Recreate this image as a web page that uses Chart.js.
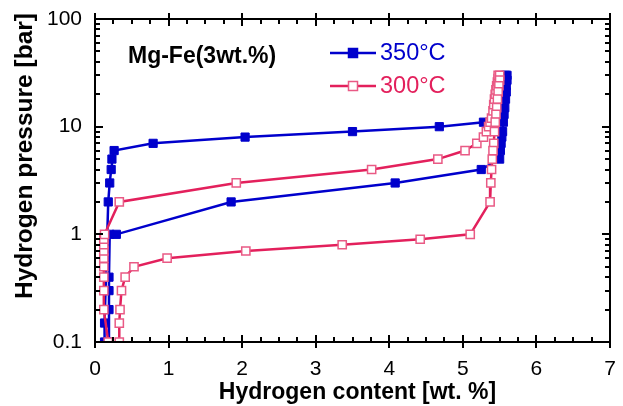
<!DOCTYPE html>
<html><head><meta charset="utf-8">
<script src="https://cdn.jsdelivr.net/npm/chart.js@4/dist/chart.umd.min.js"></script>
<style>html,body{margin:0;padding:0;background:#fff}#wrap{width:623px;height:406px}</style>
</head><body><div id="wrap"><canvas id="c" width="623" height="406"></canvas></div>
<script>
// ---- data ----
const xTicks = [0, 1, 2, 3, 4, 5, 6, 7];
const yTicks = [0.1, 1, 10, 100];
const seriesNames = ['350°C', '300°C'];
const annotationText = 'Mg-Fe(3wt.%)';
const xTitle = 'Hydrogen content [wt. %]';
const yTitle = 'Hydrogen pressure [bar]';

// 350°C : absorption then desorption (closed loop)
const blueX = [0.13, 0.13, 0.18, 0.20, 0.22, 0.23, 0.26, 0.79, 2.04, 3.50, 4.68, 5.28,
  5.47, 5.50, 5.52, 5.53, 5.55, 5.56, 5.57, 5.58, 5.58,
  5.60, 5.60, 5.59, 5.59, 5.58, 5.57, 5.56, 5.55, 5.54, 5.53, 5.52, 5.51, 5.50,
  5.25, 4.08, 1.85, 0.29, 0.20, 0.19, 0.19, 0.19, 0.19];
const blueP = [0.1, 0.15, 2, 3, 4, 5, 6, 7, 8, 9, 10, 11,
  13, 15, 17, 19, 21, 23, 25, 27, 30,
  30, 27, 24, 21, 18, 15, 13, 11, 9, 8, 7, 6, 5,
  4, 3, 2, 1, 1, 0.4, 0.3, 0.2, 0.1];

// 300°C : absorption then desorption (closed loop)
const pinkX = [0.18, 0.12, 0.12, 0.12, 0.12, 0.12, 0.12, 0.12, 0.12, 0.13, 0.33, 1.92, 3.76, 4.66, 5.03, 5.19, 5.28,
  5.32, 5.35, 5.37, 5.39, 5.41, 5.42, 5.43, 5.44, 5.45, 5.46, 5.47, 5.48, 5.48,
  5.50, 5.50, 5.49, 5.48, 5.47, 5.46, 5.45, 5.44, 5.43, 5.42, 5.41, 5.40, 5.39, 5.38, 5.37,
  5.10, 4.42, 3.36, 2.05, 0.98, 0.53, 0.41, 0.36, 0.34, 0.33, 0.33];
const pinkP = [0.1, 0.2, 0.3, 0.4, 0.5, 0.6, 0.7, 0.8, 0.9, 1, 2, 3, 4, 5, 6, 7, 8,
  9, 10, 11, 12, 14, 16, 18, 20, 22, 24, 26, 28, 30,
  30, 27, 24, 21, 18, 15, 13, 11, 9, 7, 6, 5, 4, 3, 2,
  1, 0.9, 0.8, 0.7, 0.6, 0.5, 0.4, 0.3, 0.2, 0.15, 0.1];

// ---- styles ----
const BLUE = '#0000cc';
const PINK = '#e3205c';
const PINK_MK = '#e95a85';
const FONT = '"Liberation Sans", Arial, sans-serif';

const toPts = (xs, ys) => xs.map((x, i) => ({x: x, y: ys[i]}));

const decor = {
  id: 'decor',
  afterDraw(chart) {
    const ctx = chart.ctx, a = chart.chartArea;
    const xs = chart.scales.x, ys = chart.scales.y;
    ctx.save();
    ctx.strokeStyle = '#000';
    ctx.lineWidth = 2;
    ctx.strokeRect(a.left, a.top, a.right - a.left, a.bottom - a.top);
    ctx.beginPath();
    for (let v = xs.min; v <= xs.max + 1e-9; v += 0.25) {
      const px = Math.round(xs.getPixelForValue(v));
      const major = Math.abs(v - Math.round(v)) < 1e-9;
      if (major) {
        ctx.moveTo(px, a.bottom + 6); ctx.lineTo(px, a.bottom - 7);
        ctx.moveTo(px, a.top - 6); ctx.lineTo(px, a.top + 7);
      } else {
        ctx.moveTo(px, a.bottom); ctx.lineTo(px, a.bottom - 5);
        ctx.moveTo(px, a.top); ctx.lineTo(px, a.top + 5);
      }
    }
    for (let d = -1; d <= 2; d++) {
      for (let m = 1; m <= 9; m++) {
        const v = m * Math.pow(10, d);
        if (v > ys.max * 1.0001) break;
        const py = Math.round(ys.getPixelForValue(v));
        const len = m === 1 ? 8 : 5;
        ctx.moveTo(a.left, py); ctx.lineTo(a.left + len, py);
        ctx.moveTo(a.right, py); ctx.lineTo(a.right - len, py);
      }
    }
    ctx.stroke();

    ctx.fillStyle = '#000';
    ctx.textAlign = 'center';
    ctx.textBaseline = 'middle';
    ctx.font = 'bold 23px ' + FONT;
    ctx.fillText(xTitle, (a.left + a.right) / 2 + 5, 393);
    ctx.save();
    ctx.translate(25, 156);
    ctx.rotate(-Math.PI / 2);
    ctx.font = 'bold 24.5px ' + FONT;
    ctx.fillText(yTitle, 0, 0);
    ctx.restore();

    ctx.textAlign = 'left';
    ctx.font = 'bold 23px ' + FONT;
    ctx.fillText(annotationText, a.left + 33, 57);

    const items = [
      {name: seriesNames[0], line: BLUE, fill: BLUE, stroke: BLUE, y: 53, text: BLUE},
      {name: seriesNames[1], line: PINK, fill: '#fff', stroke: PINK_MK, y: 86, text: PINK}
    ];
    ctx.font = '23.5px ' + FONT;
    items.forEach(it => {
      ctx.strokeStyle = it.line; ctx.lineWidth = 2.5;
      ctx.beginPath(); ctx.moveTo(330, it.y); ctx.lineTo(376, it.y); ctx.stroke();
      ctx.fillStyle = it.fill; ctx.fillRect(348.5, it.y - 4.5, 9, 9);
      ctx.strokeStyle = it.stroke; ctx.lineWidth = 1.5;
      ctx.strokeRect(348.5, it.y - 4.5, 9, 9);
      ctx.fillStyle = it.text;
      ctx.textBaseline = 'middle';
      ctx.fillText(it.name, 380, it.y + 1);
    });
    ctx.restore();
  }
};

new Chart(document.getElementById('c'), {
  type: 'scatter',
  data: {
    datasets: [
      {
        label: seriesNames[1], data: toPts(pinkX, pinkP), showLine: true,
        borderColor: PINK, borderWidth: 2.5, pointStyle: 'rect', pointRadius: 5.8,
        pointBackgroundColor: '#fff', pointBorderColor: PINK_MK, pointBorderWidth: 1.5
      },
      {
        label: seriesNames[0], data: toPts(blueX, blueP), showLine: true,
        borderColor: BLUE, borderWidth: 2.5, pointStyle: 'rect', pointRadius: 5.8,
        pointBackgroundColor: BLUE, pointBorderColor: BLUE, pointBorderWidth: 1
      }
    ]
  },
  options: {
    responsive: false, animation: false, devicePixelRatio: 1,
    layout: {padding: {top: 19, right: 13, left: 0, bottom: 0}},
    plugins: {legend: {display: false}, tooltip: {enabled: false}},
    scales: {
      x: {
        type: 'linear', min: 0, max: 7,
        afterBuildTicks: s => { s.ticks = xTicks.map(v => ({value: v})); },
        afterFit: s => { s.height = 64; s.paddingLeft = 0; s.paddingRight = 0; },
        grid: {display: false, drawTicks: false}, border: {display: false},
        ticks: {color: '#000', font: {size: 21, family: FONT}, padding: 15, callback: v => String(v)}
      },
      y: {
        type: 'logarithmic', min: 0.1, max: 100,
        afterBuildTicks: s => { s.ticks = yTicks.map(v => ({value: v})); },
        afterFit: s => { s.width = 95; s.paddingTop = 0; s.paddingBottom = 0; },
        grid: {display: false, drawTicks: false}, border: {display: false},
        ticks: {color: '#000', font: {size: 21, family: FONT}, padding: 13, callback: v => String(v)}
      }
    }
  },
  plugins: [decor]
});
</script></body></html>
